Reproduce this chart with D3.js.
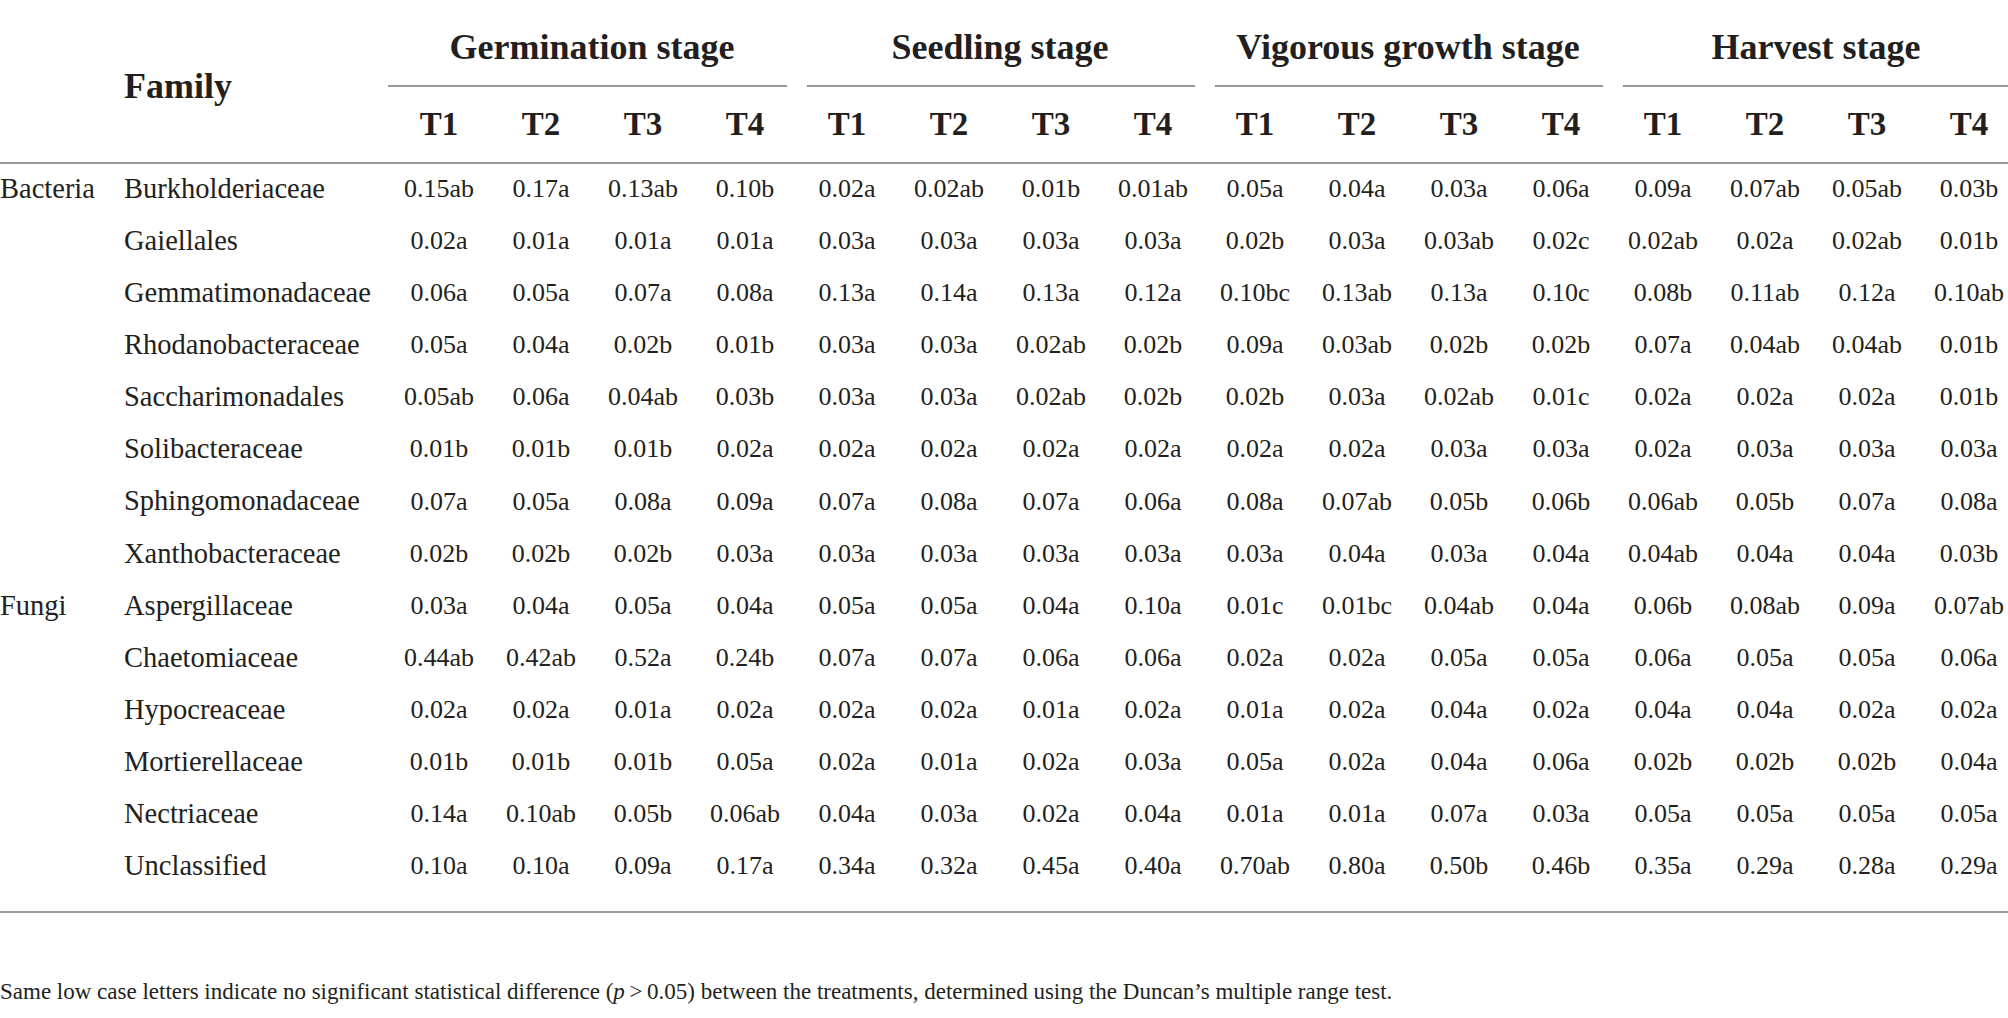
<!DOCTYPE html>
<html>
<head>
<meta charset="utf-8">
<script src="https://cdn.jsdelivr.net/npm/d3@7"></script>
<style>
  body { margin: 0; background: #fff; }
  svg text { font-family: "Liberation Serif", "DejaVu Serif", serif; fill: #231f20; }
</style>
</head>
<body>
<svg id="chart"></svg>
<script>
const width = 2008, height = 1018;

const stages = ['Germination stage', 'Seedling stage', 'Vigorous growth stage', 'Harvest stage'];
const treatments = ['T1', 'T2', 'T3', 'T4'];
const kingdoms = [
  { name: 'Bacteria', first: 'Burkholderiaceae' },
  { name: 'Fungi', first: 'Aspergillaceae' }
];
const families = [
  'Burkholderiaceae', 'Gaiellales', 'Gemmatimonadaceae', 'Rhodanobacteraceae',
  'Saccharimonadales', 'Solibacteraceae', 'Sphingomonadaceae', 'Xanthobacteraceae',
  'Aspergillaceae', 'Chaetomiaceae', 'Hypocreaceae', 'Mortierellaceae',
  'Nectriaceae', 'Unclassified'
];

// one row per family, T1..T4
const germination = [
  ['0.15ab', '0.17a', '0.13ab', '0.10b'],
  ['0.02a', '0.01a', '0.01a', '0.01a'],
  ['0.06a', '0.05a', '0.07a', '0.08a'],
  ['0.05a', '0.04a', '0.02b', '0.01b'],
  ['0.05ab', '0.06a', '0.04ab', '0.03b'],
  ['0.01b', '0.01b', '0.01b', '0.02a'],
  ['0.07a', '0.05a', '0.08a', '0.09a'],
  ['0.02b', '0.02b', '0.02b', '0.03a'],
  ['0.03a', '0.04a', '0.05a', '0.04a'],
  ['0.44ab', '0.42ab', '0.52a', '0.24b'],
  ['0.02a', '0.02a', '0.01a', '0.02a'],
  ['0.01b', '0.01b', '0.01b', '0.05a'],
  ['0.14a', '0.10ab', '0.05b', '0.06ab'],
  ['0.10a', '0.10a', '0.09a', '0.17a']
];
const seedling = [
  ['0.02a', '0.02ab', '0.01b', '0.01ab'],
  ['0.03a', '0.03a', '0.03a', '0.03a'],
  ['0.13a', '0.14a', '0.13a', '0.12a'],
  ['0.03a', '0.03a', '0.02ab', '0.02b'],
  ['0.03a', '0.03a', '0.02ab', '0.02b'],
  ['0.02a', '0.02a', '0.02a', '0.02a'],
  ['0.07a', '0.08a', '0.07a', '0.06a'],
  ['0.03a', '0.03a', '0.03a', '0.03a'],
  ['0.05a', '0.05a', '0.04a', '0.10a'],
  ['0.07a', '0.07a', '0.06a', '0.06a'],
  ['0.02a', '0.02a', '0.01a', '0.02a'],
  ['0.02a', '0.01a', '0.02a', '0.03a'],
  ['0.04a', '0.03a', '0.02a', '0.04a'],
  ['0.34a', '0.32a', '0.45a', '0.40a']
];
const vigorous = [
  ['0.05a', '0.04a', '0.03a', '0.06a'],
  ['0.02b', '0.03a', '0.03ab', '0.02c'],
  ['0.10bc', '0.13ab', '0.13a', '0.10c'],
  ['0.09a', '0.03ab', '0.02b', '0.02b'],
  ['0.02b', '0.03a', '0.02ab', '0.01c'],
  ['0.02a', '0.02a', '0.03a', '0.03a'],
  ['0.08a', '0.07ab', '0.05b', '0.06b'],
  ['0.03a', '0.04a', '0.03a', '0.04a'],
  ['0.01c', '0.01bc', '0.04ab', '0.04a'],
  ['0.02a', '0.02a', '0.05a', '0.05a'],
  ['0.01a', '0.02a', '0.04a', '0.02a'],
  ['0.05a', '0.02a', '0.04a', '0.06a'],
  ['0.01a', '0.01a', '0.07a', '0.03a'],
  ['0.70ab', '0.80a', '0.50b', '0.46b']
];
const harvest = [
  ['0.09a', '0.07ab', '0.05ab', '0.03b'],
  ['0.02ab', '0.02a', '0.02ab', '0.01b'],
  ['0.08b', '0.11ab', '0.12a', '0.10ab'],
  ['0.07a', '0.04ab', '0.04ab', '0.01b'],
  ['0.02a', '0.02a', '0.02a', '0.01b'],
  ['0.02a', '0.03a', '0.03a', '0.03a'],
  ['0.06ab', '0.05b', '0.07a', '0.08a'],
  ['0.04ab', '0.04a', '0.04a', '0.03b'],
  ['0.06b', '0.08ab', '0.09a', '0.07ab'],
  ['0.06a', '0.05a', '0.05a', '0.06a'],
  ['0.04a', '0.04a', '0.02a', '0.02a'],
  ['0.02b', '0.02b', '0.02b', '0.04a'],
  ['0.05a', '0.05a', '0.05a', '0.05a'],
  ['0.35a', '0.29a', '0.28a', '0.29a']
];
const stageValues = [germination, seedling, vigorous, harvest];

const svg = d3.select('#chart')
  .attr('width', width)
  .attr('height', height)
  .attr('viewBox', `0 0 ${width} ${height}`);

const columns = stages.flatMap(s => treatments.map(t => s + '|' + t));
const x = d3.scaleBand().domain(columns).range([388, 2020]);
const y = d3.scaleBand().domain(families).range([162, 891]);

const lineColor = '#999999';

// stage headers and their underlines
stages.forEach((s, i) => {
  const x0 = x(s + '|T1'), x1 = x(s + '|T4') + x.bandwidth();
  svg.append('text')
    .attr('x', (x0 + x1) / 2)
    .attr('y', 46)
    .attr('dy', '0.35em')
    .attr('text-anchor', 'middle')
    .attr('font-weight', 'bold')
    .attr('font-size', 36)
    .text(s);
  svg.append('line')
    .attr('x1', i ? x0 + 11 : x0)
    .attr('x2', Math.min(x1 - 9, width))
    .attr('y1', 86).attr('y2', 86)
    .attr('stroke', lineColor)
    .attr('stroke-width', 2);
});

svg.append('text')
  .attr('x', 124)
  .attr('y', 85)
  .attr('dy', '0.35em')
  .attr('font-weight', 'bold')
  .attr('font-size', 36)
  .text('Family');

svg.append('g')
  .selectAll('text')
  .data(columns)
  .join('text')
    .attr('x', d => x(d) + x.bandwidth() / 2)
    .attr('y', 123)
    .attr('dy', '0.35em')
    .attr('text-anchor', 'middle')
    .attr('font-weight', 'bold')
    .attr('font-size', 33)
    .text(d => d.split('|')[1]);

// horizontal rules
[163, 912].forEach(yy => {
  svg.append('line')
    .attr('x1', 0).attr('x2', width)
    .attr('y1', yy).attr('y2', yy)
    .attr('stroke', lineColor)
    .attr('stroke-width', 2);
});

const rowY = f => y(f) + y.bandwidth() / 2;

svg.append('g')
  .selectAll('text')
  .data(kingdoms)
  .join('text')
    .attr('x', 0)
    .attr('y', d => rowY(d.first))
    .attr('dy', '0.35em')
    .attr('font-size', 28.5)
    .text(d => d.name);

svg.append('g')
  .selectAll('text')
  .data(families)
  .join('text')
    .attr('x', 124)
    .attr('y', rowY)
    .attr('dy', '0.35em')
    .attr('font-size', 28.5)
    .text(d => d);

const cells = [];
stages.forEach((s, si) => {
  families.forEach((f, fi) => {
    treatments.forEach((t, ti) => {
      cells.push({ col: s + '|' + t, family: f, value: stageValues[si][fi][ti] });
    });
  });
});

svg.append('g')
  .selectAll('text')
  .data(cells)
  .join('text')
    .attr('x', d => x(d.col) + x.bandwidth() / 2)
    .attr('y', d => rowY(d.family))
    .attr('dy', '0.35em')
    .attr('text-anchor', 'middle')
    .attr('font-size', 26)
    .text(d => d.value);

const note = svg.append('text')
  .attr('x', 0)
  .attr('y', 991)
  .attr('dy', '0.35em')
  .attr('font-size', 23);
note.append('tspan').text('Same low case letters indicate no significant statistical difference (');
note.append('tspan').attr('font-style', 'italic').text('p');
note.append('tspan').text('\u2009>\u20090.05) between the treatments, determined using the Duncan\u2019s multiple range test.');
</script>
</body>
</html>
